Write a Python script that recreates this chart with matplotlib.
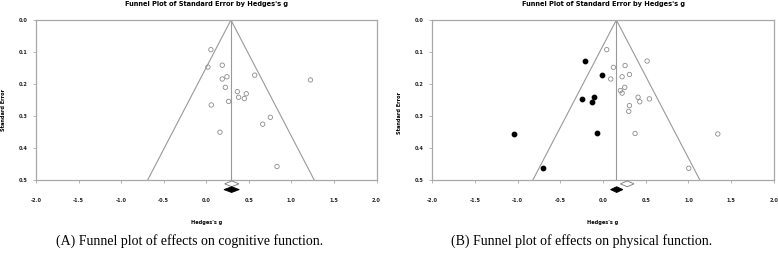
import numpy as np
import matplotlib
matplotlib.use('Agg')
import matplotlib.pyplot as plt

# (A) cognitive function: observed studies
cog_g = [0.055, 0.02, 0.188, 0.188, 0.243, 0.569, 1.224, 0.224, 0.365, 0.47,
         0.38, 0.447, 0.263, 0.059, 0.753, 0.663, 0.161, 0.831]
cog_se = [0.0925, 0.147, 0.141, 0.184, 0.177, 0.172, 0.187, 0.21, 0.2235, 0.23,
          0.241, 0.245, 0.254, 0.265, 0.3035, 0.325, 0.35, 0.457]
cog_mean = 0.29
cog_obs_ci = (0.216, 0.384)
cog_adj_ci = (0.208, 0.388)

# (B) physical function: observed and imputed studies
phy_g = [0.043, 0.516, 0.121, 0.258, 0.309, 0.09, 0.223, 0.254, 0.203, 0.223,
         0.41, 0.543, 0.43, 0.309, 0.301, 0.375, 1.344, 1.004]
phy_se = [0.0925, 0.128, 0.1476, 0.142, 0.17, 0.184, 0.177, 0.21, 0.22, 0.228,
          0.241, 0.246, 0.255, 0.267, 0.285, 0.354, 0.3555, 0.4626]
imp_g = [-0.211, -0.008, -0.242, -0.109, -0.129, -0.07, -1.043, -0.699]
imp_se = [0.128, 0.17, 0.246, 0.241, 0.255, 0.354, 0.3565, 0.4626]
phy_mean = 0.156
phy_obs_ci = (0.203, 0.363)
phy_adj_ci = (0.088, 0.232)

xticks = [-2.0, -1.5, -1.0, -0.5, 0.0, 0.5, 1.0, 1.5, 2.0]
yticks = [0.0, 0.1, 0.2, 0.3, 0.4, 0.5]

grey = '#a8a8a8'
fig = plt.figure(figsize=(7.78, 2.60), dpi=100)


def diamond(ax, ci, y, face):
    lo, hi = ci
    mid = (lo + hi) / 2
    h = 0.009
    ax.fill([lo, mid, hi, mid], [y, y - h, y, y + h], facecolor=face,
            edgecolor='#777777' if face == 'white' else 'black', lw=0.6,
            clip_on=False, zorder=5)


def funnel(ax, g, se, mean, obs_ci, adj_ci, imp=None):
    ax.set_xlim(-2, 2)
    ax.set_ylim(0.5, 0.0)
    se_max = 0.5
    ax.plot([mean - 1.96 * se_max, mean, mean + 1.96 * se_max], [se_max, 0, se_max],
            color='#999999', lw=0.8)
    ax.plot([mean, mean], [0, se_max], color='#999999', lw=0.8)
    ax.scatter(g, se, s=10, facecolors='none', edgecolors='#8c8c8c', linewidths=0.6, zorder=3)
    if imp is not None:
        ax.scatter(imp[0], imp[1], s=10, color='black', zorder=4)
    diamond(ax, obs_ci, 0.511, 'white')
    diamond(ax, adj_ci, 0.529, 'black')
    for s in ax.spines.values():
        s.set_color(grey)
        s.set_linewidth(0.9)
    ax.set_xticks(xticks)
    ax.set_xticklabels([f'{t:.1f}' for t in xticks])
    ax.set_yticks(yticks)
    ax.set_yticklabels([f'{t:.1f}' for t in yticks])
    ax.tick_params(length=2, width=0.6, color=grey, labelsize=3.6)
    ax.tick_params(axis='x', pad=11)
    ax.tick_params(axis='y', pad=4)
    for lab in ax.get_xticklabels() + ax.get_yticklabels():
        lab.set_fontweight('bold')
        lab.set_color('#222222')
    ax.set_title("Funnel Plot of Standard Error by Hedges's g", fontsize=4.8,
                 fontweight='bold', pad=10)
    ax.set_xlabel("Hedges's g", fontsize=3.6, fontweight='bold', labelpad=12)
    ax.set_ylabel('Standard Error', fontsize=3.6, fontweight='bold')


ax1 = fig.add_axes([36 / 778, 1 - 180.3 / 260, 340.5 / 778, 160.3 / 260])
funnel(ax1, cog_g, cog_se, cog_mean, cog_obs_ci, cog_adj_ci)
ax1.yaxis.set_label_coords(-0.087, 0.44)

ax2 = fig.add_axes([432.3 / 778, 1 - 180.3 / 260, 341.5 / 778, 160.3 / 260])
funnel(ax2, phy_g, phy_se, phy_mean, phy_obs_ci, phy_adj_ci, imp=(imp_g, imp_se))
ax2.yaxis.set_label_coords(-0.088, 0.42)

fig.text(189.5 / 778, 1 - 241.5 / 260, '(A) Funnel plot of effects on cognitive function.',
         family='Liberation Serif', fontsize=10, ha='center', va='center')
fig.text(581.7 / 778, 1 - 241.5 / 260, '(B) Funnel plot of effects on physical function.',
         family='Liberation Serif', fontsize=10, ha='center', va='center')

fig.savefig('out.png', dpi=100)
